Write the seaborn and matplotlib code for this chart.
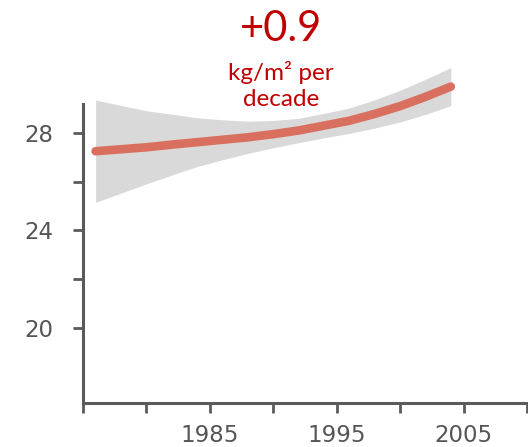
import numpy as np
import pandas as pd
import matplotlib
matplotlib.use("Agg")
import matplotlib.pyplot as plt
import seaborn as sns

# Mean BMI trend with its uncertainty band
years = [1976, 1978, 1980, 1982, 1984, 1986, 1988, 1990, 1992, 1994, 1996, 1998, 2000, 2002, 2004]
bmi_mean = [27.25, 27.33, 27.41, 27.52, 27.62, 27.72, 27.82, 27.95, 28.10, 28.30, 28.50, 28.78, 29.10, 29.48, 29.90]
bmi_lower = [25.15, 25.53, 25.91, 26.27, 26.62, 26.90, 27.16, 27.39, 27.60, 27.80, 27.98, 28.20, 28.45, 28.76, 29.12]
bmi_upper = [29.35, 29.13, 28.91, 28.77, 28.62, 28.54, 28.48, 28.51, 28.60, 28.80, 29.02, 29.36, 29.75, 30.20, 30.68]

y_ticks = [20, 22, 24, 26, 28]
y_labels = ["20", "", "24", "", "28"]
x_ticks = [1975, 1980, 1985, 1990, 1995, 2000, 2005, 2010]
x_labels = ["", "", "1985", "", "1995", "", "2005", ""]

headline = "+0.9"
unit_text = "kg/m² per\ndecade"

df = pd.DataFrame({"year": years, "bmi": bmi_mean, "lo": bmi_lower, "hi": bmi_upper})

sns.set_style("white")
plt.rcParams["font.family"] = ["DejaVu Sans"]

fig = plt.figure(figsize=(5.28, 4.47), dpi=100)
ax = fig.add_axes([0.157, 0.0984, 0.841, 0.7678])

ax.fill_between(df["year"], df["lo"], df["hi"], color="#d9d9d9", linewidth=0, zorder=1)
sns.lineplot(data=df, x="year", y="bmi", ax=ax, color="#d9705f", linewidth=6.2,
             solid_capstyle="round", zorder=2)

ax.set_xlim(1975, 2010)
ax.set_ylim(16.92, 31)
ax.set_xlabel("")
ax.set_ylabel("")

ax.set_xticks(x_ticks)
ax.set_xticklabels(x_labels)
ax.set_yticks(y_ticks)
ax.set_yticklabels(y_labels)

spine_col = "#5a5a5a"
for side in ["top", "right"]:
    ax.spines[side].set_visible(False)
for side in ["left", "bottom"]:
    ax.spines[side].set_color(spine_col)
    ax.spines[side].set_linewidth(2.2)
ax.spines["left"].set_bounds(16.92, 29.2)

ax.tick_params(axis="both", direction="out", length=7, width=2.0, color=spine_col,
               labelcolor="#555555", labelsize=16.5, bottom=True, left=True)
ax.tick_params(axis="y", pad=14)
ax.tick_params(axis="x", pad=8)

fig.text(0.532, 0.935, headline, ha="center", va="center", color="#c00000",
         fontsize=30, family=["Lato", "DejaVu Sans"])
fig.text(0.532, 0.808, unit_text, ha="center", va="center", color="#c00000",
         fontsize=17.5, linespacing=1.3, family=["Lato", "DejaVu Sans"])

fig.savefig("out.png", dpi=100)
